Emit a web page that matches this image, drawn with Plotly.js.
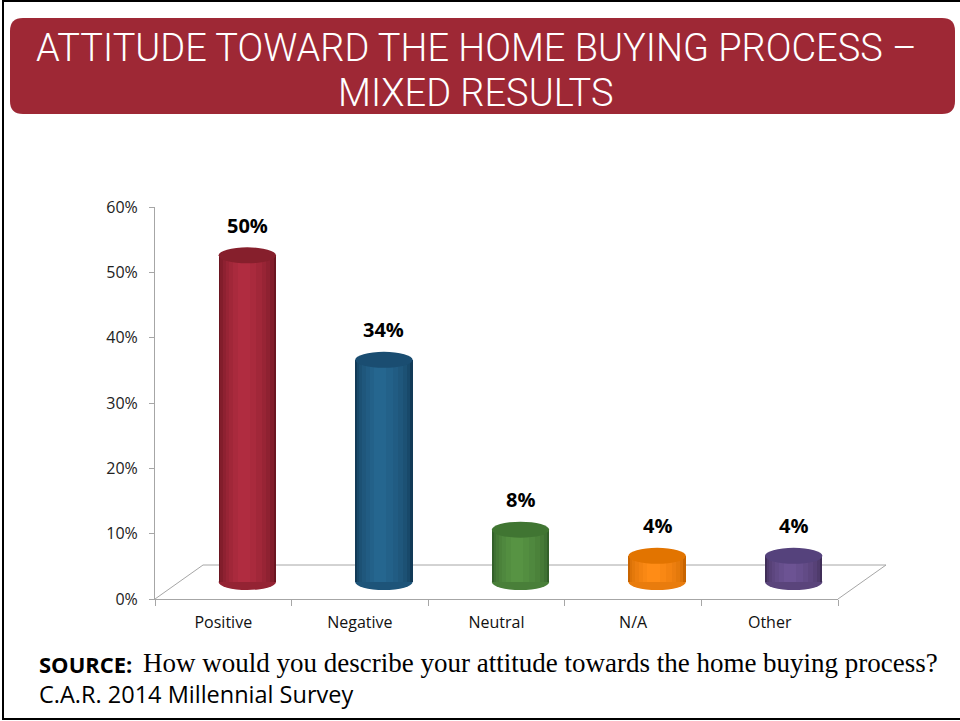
<!DOCTYPE html>
<html>
<head>
<meta charset="utf-8">
<script src="https://cdn.plot.ly/plotly-3.0.1.min.js"></script>
<style>html,body{margin:0;padding:0;background:#fff;}#chart{width:960px;height:721px;}</style>
</head>
<body>
<div id="chart"></div>
<script>
// ---- data ----
var categories = ["Positive", "Negative", "Neutral", "N/A", "Other"];
var values = [50, 34, 8, 4, 4];
var yTickValues = [0, 10, 20, 30, 40, 50, 60];
var yTickLabels = ["0%", "10%", "20%", "30%", "40%", "50%", "60%"];
var titleLines = ["ATTITUDE TOWARD THE HOME BUYING PROCESS \u2013", "MIXED RESULTS"];
var sourceLabel = "SOURCE:";
var sourceQuestion = "How would you describe your attitude towards the home buying process?";
var sourceName = "C.A.R. 2014 Millennial Survey";

// ---- styles ----
var edgeColors  = ["#6a1520", "#123a57", "#33602a", "#c86400", "#402e58"];
var lightColors = ["#b02c40", "#25668f", "#579343", "#ff8c16", "#6c5393"];
var capColors   = ["#861f2c", "#1a4d71", "#407532", "#e27400", "#55427c"];

function hex2rgb(h){ return [parseInt(h.substr(1,2),16), parseInt(h.substr(3,2),16), parseInt(h.substr(5,2),16)]; }
function mix(a, b, t){
  var A = hex2rgb(a), B = hex2rgb(b);
  return "rgb(" + A.map(function(c, i){ return Math.round(c + (B[i] - c) * t); }).join(",") + ")";
}

var W = 960, H = 721;
function px(x){ return x / W; }
function py(y){ return 1 - y / H; }

// axis geometry (pixels)
var axL = 155, axR = 838, axB = 599, axT = 207;
var dx = 24, dy = 17;           // offset of bars into depth
var depthX = 48, depthY = 34;   // floor depth
var fullW = 0.42;
var yUnitsPerPx = 60 / (axB - axT);
var padPx = 14;                 // room below the bar base for the bottom ellipse
var capHalf = 8 * yUnitsPerPx;

var layerWidths = [0.42, 0.39, 0.35, 0.30, 0.24, 0.17, 0.09];
var traces = layerWidths.map(function(w, k){
  var t = k / (layerWidths.length - 1);
  return {
    type: "bar", x: categories, y: values, xaxis: "x2", yaxis: "y2",
    width: w, offset: -fullW / 2 + (fullW - w) * 0.42,
    marker: {color: edgeColors.map(function(c, i){ return mix(c, lightColors[i], Math.pow(t, 0.6)); }), line: {width: 0}},
    hoverinfo: "skip", showlegend: false
  };
});
// empty trace on main axes so they render
traces.unshift({type: "bar", x: categories, y: values.map(function(){return null;}),
  xaxis: "x", yaxis: "y", showlegend: false, hoverinfo: "skip"});

var shapes = [];
// page border
shapes.push({type: "rect", xref: "paper", yref: "paper", x0: px(3), x1: px(970), y0: py(1), y1: py(719),
  line: {color: "#000", width: 2}, fillcolor: "rgba(0,0,0,0)", layer: "below"});
// header rounded box
(function(){
  var x0 = 10, x1 = 955, y0 = 18, y1 = 114, r = 13;
  function P(x, y){ return px(x) + "," + py(y); }
  var d = "M" + P(x0 + r, y0) + " L" + P(x1 - r, y0) + " Q" + P(x1, y0) + " " + P(x1, y0 + r) +
          " L" + P(x1, y1 - r) + " Q" + P(x1, y1) + " " + P(x1 - r, y1) +
          " L" + P(x0 + r, y1) + " Q" + P(x0, y1) + " " + P(x0, y1 - r) +
          " L" + P(x0, y0 + r) + " Q" + P(x0, y0) + " " + P(x0 + r, y0) + " Z";
  shapes.push({type: "path", xref: "paper", yref: "paper", path: d, fillcolor: "#9e2835",
    line: {width: 0}, layer: "below"});
})();
// 3D floor lines
var gridC = "#a6a6a6";
shapes.push({type: "line", xref: "paper", yref: "paper", x0: px(axL), y0: py(axB), x1: px(axL + depthX), y1: py(axB - depthY), line: {color: gridC, width: 1}, layer: "below"});
shapes.push({type: "line", xref: "paper", yref: "paper", x0: px(axL + depthX), y0: py(axB - depthY), x1: px(axR + depthX), y1: py(axB - depthY), line: {color: gridC, width: 1}, layer: "below"});
shapes.push({type: "line", xref: "paper", yref: "paper", x0: px(axR), y0: py(axB), x1: px(axR + depthX), y1: py(axB - depthY), line: {color: gridC, width: 1}, layer: "below"});

// cylinder caps (derived from data)
values.forEach(function(v, i){
  shapes.push({type: "circle", xref: "x2", yref: "y2", x0: i - fullW / 2, x1: i + fullW / 2,
    y0: -capHalf, y1: capHalf, fillcolor: mix(edgeColors[i], lightColors[i], 0.6), line: {width: 0}, layer: "between"});
  shapes.push({type: "circle", xref: "x2", yref: "y2", x0: i - fullW / 2, x1: i + fullW / 2,
    y0: v - capHalf, y1: v + capHalf, fillcolor: capColors[i], line: {width: 0}, layer: "above"});
});

var annotations = values.map(function(v, i){
  return {xref: "x2", yref: "y2", x: categories[i], y: v, text: "<b>" + v + "%</b>", showarrow: false,
    yanchor: "middle", yshift: 30, font: {family: "Open Sans, sans-serif", size: 20, color: "#000"}};
});
var titleFont = {family: "Roboto, sans-serif", size: 38, weight: 300, color: "#fff"};
annotations.push({xref: "paper", yref: "paper", x: px(476), y: py(48), text: titleLines[0], showarrow: false,
  xanchor: "center", yanchor: "middle", font: titleFont});
annotations.push({xref: "paper", yref: "paper", x: px(476), y: py(93), text: titleLines[1], showarrow: false,
  xanchor: "center", yanchor: "middle", font: titleFont});
annotations.push({xref: "paper", yref: "paper", x: px(37), y: py(664), text: "<b>" + sourceLabel + "</b>", showarrow: false,
  xanchor: "left", yanchor: "middle", font: {family: "Open Sans, sans-serif", size: 22, color: "#000"}});
annotations.push({xref: "paper", yref: "paper", x: px(141), y: py(663), text: sourceQuestion, showarrow: false,
  xanchor: "left", yanchor: "middle", font: {family: "Liberation Serif, Times New Roman, serif", size: 27, color: "#000"}});
annotations.push({xref: "paper", yref: "paper", x: px(37), y: py(694), text: sourceName, showarrow: false,
  xanchor: "left", yanchor: "middle", font: {family: "Open Sans, sans-serif", size: 23.5, color: "#000"}});

var layout = {
  width: W, height: H,
  margin: {l: 0, r: 0, t: 0, b: 0},
  paper_bgcolor: "#fff", plot_bgcolor: "rgba(0,0,0,0)",
  barmode: "overlay", bargap: 0,
  xaxis: {domain: [px(axL), px(axR)], type: "category", categoryarray: categories, range: [-0.5, 4.5],
    showline: true, linecolor: gridC, linewidth: 1, ticks: "outside", tickson: "boundaries",
    ticklen: 6, tickcolor: gridC, showgrid: false, zeroline: false, fixedrange: true, ticklabelstandoff: 9,
    tickfont: {family: "Open Sans, sans-serif", size: 16, color: "#111"}, anchor: "y"},
  yaxis: {domain: [py(axB), py(axT)], range: [0, 60], tickmode: "array", tickvals: yTickValues, ticktext: yTickLabels,
    showline: true, linecolor: gridC, linewidth: 1, ticks: "outside", ticklen: 5, tickcolor: gridC,
    showgrid: false, zeroline: false, fixedrange: true, ticklabelstandoff: 8,
    tickfont: {family: "Open Sans, sans-serif", size: 16, color: "#222"}, anchor: "x"},
  xaxis2: {domain: [px(axL + dx), px(axR + dx)], type: "category", categoryarray: categories, range: [-0.5, 4.5],
    visible: false, anchor: "y2", fixedrange: true},
  yaxis2: {domain: [py(axB - dy + padPx), py(axT - dy)], range: [-padPx * yUnitsPerPx, 60], visible: false, anchor: "x2", fixedrange: true},
  shapes: shapes,
  annotations: annotations,
  showlegend: false
};

Plotly.newPlot("chart", traces, layout, {displayModeBar: false, staticPlot: true});
</script>
</body>
</html>
